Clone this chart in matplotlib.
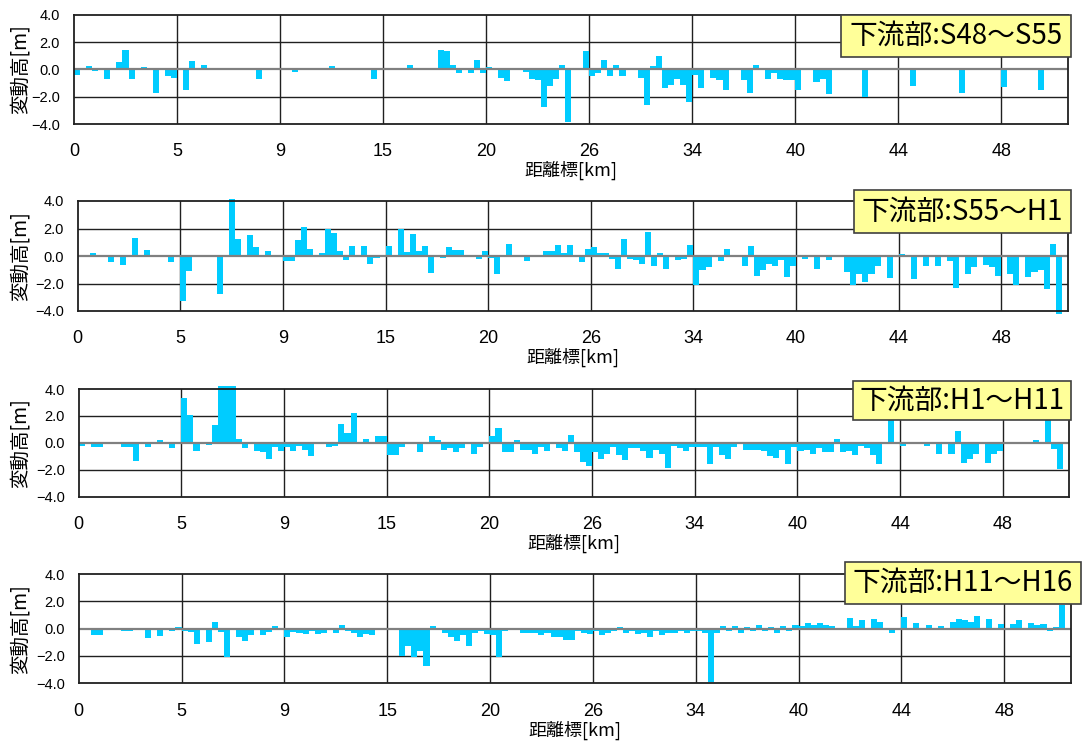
import matplotlib
matplotlib.use("Agg")
import matplotlib.pyplot as plt
from matplotlib.patches import Rectangle
import numpy as np

plt.rcParams['font.family'] = ['Noto Sans CJK JP', 'DejaVu Sans']

# ---------------- data ----------------
tick_labels = ['0', '5', '9', '15', '20', '26', '34', '40', '44', '48']
titles = ['下流部:S48～S55', '下流部:S55～H1', '下流部:H1～H11', '下流部:H11～H16']
ylabel_text = '変動高[m]'
xlabel_text = '距離標[km]'

s48_s55 = [-0.4, 0, 0.25, -0.1, 0, -0.68, 0, 0.56, 1.44, -0.68, 0, 0.2, 0, -1.7, 0, -0.46, -0.6,
           -0.05, -1.48, 0.64, 0, 0.34, 0, 0, 0, 0, 0, 0, 0, 0, -0.68, 0, 0, 0,
           0, 0, -0.22, 0, 0, 0, 0, 0, 0.27, 0, 0, 0, 0, 0, 0, -0.68, 0,
           0, 0, 0, 0, 0.34, 0, 0, 0, 0, 1.44, 1.37, 0.34, -0.3, 0, -0.24, 0.71, -0.3,
           0.2, 0, -0.6, -0.83, 0, 0.12, -0.2, -0.68, -0.75, -2.73, -1.19, -0.68, 0.34, -3.83, -0.05, 0, 1.37,
           -0.46, -0.24, 0.71, -0.46, 0.34, -0.46, 0, 0, -0.6, -2.58, 0.27, 1.0, -1.34, -1.12, -0.68, -1.12, -2.36,
           -0.4, -1.34, 0.12, -0.6, -0.75, -1.48, 0, 0, -0.75, -1.7, 0.34, -0.05, -0.68, -0.3, -0.68, -0.75, -0.75,
           -1.48, 0, 0, -0.9, -0.68, -1.78, 0, 0, 0, 0, 0, -2.0, 0, 0, 0, 0, 0,
           0, 0, -1.19, 0, 0, 0, 0, 0, 0, 0, -1.7, 0, 0, 0, 0, 0, 0, -1.27,
           0, 0, 0, 0, 0, -1.48, 0, 0, 0, 0]

s55_h1 = [0.05, 0, 0.22, 0, 0, -0.44, 0, -0.65, 0.05, 1.29, 0, 0.41, 0, 0.05, 0, -0.44, -0.05,
          -3.27, -1.09, 0.05, 0, 0, 0, -2.76, 0, 4.15, 1.21, 0, 1.5, 0.63, 0, 0.34, 0.05, 0,
          -0.36, -0.36, 1.14, 2.09, 0.49, 0.05, 0.2, 1.94, 1.65, 0.34, -0.29, 0.7, 0, 0.7, -0.58, -0.15, 0,
          0.7, 0, 1.94, 0.27, 1.58, 0.34, 0.7, -1.24, 0, -0.15, 0.63, 0.41, 0.41, 0, 0, -0.22, 0.34,
          -0.15, -1.31, 0, 0.85, 0.05, 0.05, -0.36, 0.05, 0, 0.34, 0.34, 0.78, 0.2, 0.78, -0.1, -0.44, 0.49,
          0.63, 0.2, 0.2, -0.22, -0.95, 1.21, -0.22, -0.29, -0.58, 1.72, -0.73, 0.2, -0.95, -0.05, -0.29, -0.22, 0.78,
          -2.11, -1.02, -0.8, -0.05, -0.36, 0.49, 0, 0, -0.73, 0.7, -1.45, -1.02, -0.58, -0.73, -0.29, -1.53, -0.73,
          0.05, -0.22, 0, -0.95, -0.05, -0.29, 0, 0, -1.16, -2.11, -1.31, -1.89, -1.31, -0.73, 0, -1.6, 0,
          0.15, 0, -1.67, 0, -0.73, 0, -0.73, 0, -0.36, -2.33, 0, -1.31, -0.8, 0, -0.65, -0.8, -1.45,
          -0.05, -1.31, -2.11, 0, -1.53, -1.16, -1.02, -2.4, 0.85, -4.2, 0]

h1_h11 = [-0.22, 0, -0.3, -0.3, 0, 0, 0, -0.3, -0.3, -1.34, 0, -0.3, 0, 0.2, 0, -0.37, 0.05,
          3.32, 2.06, -0.59, 0, -0.15, 1.31, 4.2, 4.2, 4.2, 0.27, -0.37, 0.05, -0.59, -0.67, -1.19, -0.3, -0.6,
          -0.3, -0.6, -0.2, -0.5, -1.0, 0, 0, -0.3, -0.2, 1.4, 0.7, 2.2, -0.1, 0.3, 0, 0.5, 0.5,
          -0.9, -0.9, -0.3, 0, 0, -0.7, -0.1, 0.5, 0.2, -0.5, -0.4, -0.7, -0.4, 0, -0.8, -0.3, 0,
          0.5, 1.1, -0.7, -0.7, 0.2, -0.5, -0.5, -0.8, -0.3, -0.6, 0, -0.4, -0.6, 0.6, -0.7, -1.4, -1.7,
          -0.7, -1.2, -0.8, -0.3, -0.9, -1.3, -0.4, -0.4, -0.6, -1.1, -0.5, -0.8, -1.9, -0.2, -0.4, -0.6, -0.3,
          -0.3, -0.3, -1.6, -0.3, -0.9, -1.2, -0.3, -0.1, -0.5, -0.5, -0.5, -0.6, -1.0, -1.1, -0.5, -1.6, -0.3,
          -0.6, -0.5, -0.8, -0.4, -0.7, -0.7, 0.3, -0.7, -0.6, -0.9, -0.2, -0.4, -0.9, -1.6, 0, 1.7, 0,
          -0.22, 0, 0.05, 0, -0.2, 0, -0.82, 0, -0.82, 0.87, -1.49, -1.19, -0.82, 0, -1.49, -0.82, -0.59,
          0.05, 0, 0.05, 0, 0.05, 0.2, 0.05, 1.7, -0.45, -1.93, 0]

h11_h16 = [-0.12, 0, -0.49, -0.49, 0, -0.12, 0, -0.2, -0.2, -0.12, 0, -0.71, 0, -0.56, 0, -0.2, 0.1,
           -0.2, -0.27, -1.15, 0, -1.0, 0.46, -0.27, -2.1, 0, -0.63, -0.93, -0.49, 0, -0.49, -0.27, 0.17, 0,
           -0.63, -0.27, -0.35, -0.4, -0.2, -0.4, -0.3, -0.1, -0.3, 0.3, -0.2, -0.3, -0.6, -0.4, -0.5, 0, -0.1,
           0, -0.1, -2.0, -1.3, -2.1, -1.6, -2.7, 0.2, -0.1, -0.3, -0.6, -0.9, -0.5, -1.3, -0.3, -0.2, -0.4,
           -0.5, -2.1, -0.2, 0, -0.1, -0.3, -0.3, -0.3, -0.5, -0.3, -0.6, -0.6, -0.8, -0.8, -0.2, -0.3, -0.4,
           -0.2, -0.5, -0.3, -0.2, 0.1, -0.3, -0.2, -0.4, -0.3, -0.6, -0.2, -0.5, -0.3, -0.3, -0.2, -0.3, -0.2,
           -0.2, -0.3, -3.9, -0.3, 0.2, -0.2, 0.2, -0.3, 0.1, -0.2, 0.3, -0.2, 0.1, -0.3, 0.2, -0.2, 0.3,
           0.2, 0.4, 0.3, 0.4, 0.3, 0.2, -0.12, 0, 0.8, 0.22, 0.66, -0.12, 0.73, 0.51, 0, -0.34, 0,
           0.88, 0, 0.44, 0, 0.29, 0, 0.22, 0, 0.51, 0.73, 0.66, 0.51, 0.95, 0.05, 0.73, -0.12, 0.37,
           0.05, 0.37, 0.66, 0, 0.44, 0.29, 0.37, -0.2, 0.1, 1.76, 0]

series = [s48_s55, s55_h1, h1_h11, h11_h16]

# ---------------- layout (pixels) ----------------
W, H = 1087, 745
axes_px = [(74, 14.7, 1068, 124), (77.7, 201, 1067.7, 311),
           (78.7, 389, 1069.3, 496.7), (78.7, 574, 1070.7, 683.3)]
box_px = [(841, 15, 1071, 57), (854, 190, 1071, 233),
          (853, 381, 1071, 420), (845, 562, 1081, 604)]

fig = plt.figure(figsize=(W / 100, H / 100), dpi=100)
bar_color = '#00CCFF'
n_per_tick = 17
num_font = ['Liberation Sans', 'DejaVu Sans']

for k, vals in enumerate(series):
    l, t, r, b = axes_px[k]
    ax = fig.add_axes([l / W, 1 - b / H, (r - l) / W, (b - t) / H])
    n = len(vals)
    x = np.arange(n)
    ax.bar(x, vals, width=1.0, align='edge', color=bar_color, linewidth=0, zorder=2,
           clip_on=False)
    ax.set_xlim(0, n)
    ax.set_ylim(-4, 4)
    ticks = np.arange(len(tick_labels)) * n_per_tick
    ax.set_xticks(ticks)
    ax.set_xticklabels(tick_labels, fontsize=13, family=num_font)
    ax.set_yticks([-4, -2, 0, 2, 4])
    ax.set_yticklabels(['\u22124.0', '\u22122.0', '0.0', '2.0', '4.0'], fontsize=10.5,
                       family=num_font)
    ax.tick_params(axis='x', length=0, pad=14)
    ax.tick_params(axis='y', length=0, pad=10)
    for tk in ticks[1:]:
        ax.axvline(tk, color='#202020', lw=1.0, zorder=1)
    for yv in (-2, 2):
        ax.axhline(yv, color='#202020', lw=1.0, zorder=1)
    ax.axhline(0, color='#808080', lw=1.6, zorder=3)
    for sp in ax.spines.values():
        sp.set_color('#202020')
        sp.set_linewidth(1.3)
        sp.set_zorder(4)
    hpx = b - t
    ax.set_ylabel(ylabel_text, fontsize=14, va='center')
    ax.yaxis.set_label_coords(-(l - 20) / (r - l), 0.5)
    ax.set_xlabel(xlabel_text, fontsize=13, va='top')
    ax.xaxis.set_label_coords(0.5, -37.0 / hpx)

    bx0, by0, bx1, by1 = box_px[k]
    fig.add_artist(Rectangle((bx0 / W, 1 - by1 / H), (bx1 - bx0) / W, (by1 - by0) / H,
                             transform=fig.transFigure, facecolor='#FFFF99',
                             edgecolor='#404040', lw=1.2, zorder=10))
    fig.text((bx0 + bx1) / 2 / W, 1 - (by0 + by1) / 2 / H, titles[k], fontsize=20,
             ha='center', va='center', zorder=11)

fig.savefig('out.png', dpi=100)
